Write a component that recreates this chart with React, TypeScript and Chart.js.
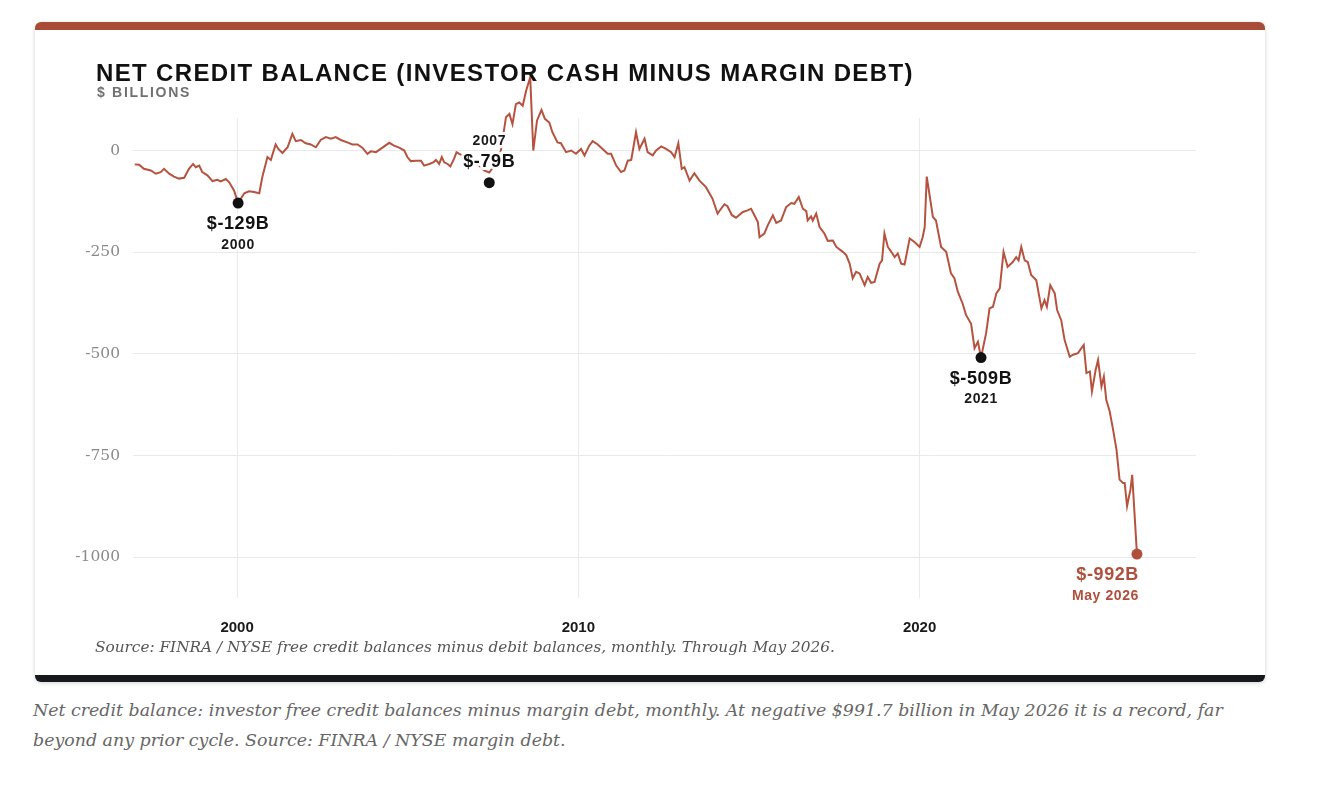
import React, { useEffect, useRef } from "react";
import { Chart, registerables } from "chart.js";

Chart.register(...registerables);

// ---- Data ----
const years = [
  1997.0, 1997.13, 1997.27, 1997.47, 1997.62, 1997.76, 1997.86, 1998.01, 1998.15, 1998.3,
  1998.45, 1998.59, 1998.71, 1998.79, 1998.89, 1998.98, 1999.13, 1999.28, 1999.42, 1999.52,
  1999.67, 1999.77, 1999.91, 2000.03, 2000.21, 2000.35, 2000.5, 2000.65, 2000.74, 2000.89,
  2000.99, 2001.13, 2001.21, 2001.33, 2001.48, 2001.62, 2001.72, 2001.87, 2002.01, 2002.16,
  2002.31, 2002.45, 2002.6, 2002.75, 2002.89, 2003.04, 2003.23, 2003.38, 2003.53, 2003.67,
  2003.82, 2003.92, 2004.07, 2004.26, 2004.46, 2004.6, 2004.75, 2004.9, 2004.99, 2005.09,
  2005.24, 2005.39, 2005.48, 2005.63, 2005.75, 2005.83, 2005.92, 2006.0, 2006.07, 2006.17,
  2006.25, 2006.36, 2006.43, 2006.51, 2006.95, 2007.24, 2007.39, 2007.54, 2007.73, 2007.88,
  2007.98, 2008.07, 2008.17, 2008.27, 2008.37, 2008.47, 2008.59, 2008.68, 2008.79, 2008.92,
  2009.02, 2009.15, 2009.24, 2009.39, 2009.49, 2009.64, 2009.79, 2009.93, 2010.08, 2010.18,
  2010.32, 2010.42, 2010.57, 2010.71, 2010.86, 2010.96, 2011.11, 2011.25, 2011.35, 2011.45,
  2011.55, 2011.69, 2011.79, 2011.94, 2012.03, 2012.18, 2012.28, 2012.43, 2012.57, 2012.72,
  2012.82, 2012.93, 2013.03, 2013.11, 2013.26, 2013.4, 2013.55, 2013.74, 2013.93, 2014.08,
  2014.28, 2014.37, 2014.5, 2014.62, 2014.82, 2014.96, 2015.06, 2015.16, 2015.26, 2015.31,
  2015.45, 2015.55, 2015.7, 2015.8, 2015.94, 2016.09, 2016.24, 2016.33, 2016.46, 2016.58,
  2016.68, 2016.72, 2016.82, 2016.87, 2016.97, 2017.07, 2017.21, 2017.31, 2017.46, 2017.56,
  2017.75, 2017.85, 2017.95, 2018.04, 2018.14, 2018.24, 2018.39, 2018.48, 2018.58, 2018.68,
  2018.83, 2018.9, 2018.97, 2019.07, 2019.17, 2019.27, 2019.36, 2019.46, 2019.56, 2019.71,
  2019.85, 2020.0, 2020.09, 2020.15, 2020.21, 2020.39, 2020.48, 2020.63, 2020.78, 2020.92,
  2021.02, 2021.12, 2021.26, 2021.36, 2021.51, 2021.61, 2021.71, 2021.8, 2021.95, 2022.05,
  2022.15, 2022.25, 2022.35, 2022.46, 2022.58, 2022.73, 2022.83, 2022.9, 2022.98, 2023.08,
  2023.17, 2023.27, 2023.42, 2023.57, 2023.66, 2023.73, 2023.83, 2023.96, 2024.03, 2024.15,
  2024.25, 2024.4, 2024.5, 2024.64, 2024.81, 2024.89, 2024.99, 2025.05, 2025.16, 2025.23,
  2025.33, 2025.4, 2025.47, 2025.57, 2025.67, 2025.77, 2025.86, 2025.96, 2026.01, 2026.08,
  2026.18, 2026.23, 2026.37,
];

const netCredit = [
  -34, -35, -45, -49, -57, -53, -45, -57, -64, -69,
  -67, -45, -33, -41, -37, -53, -61, -75, -72, -76,
  -70, -78, -98, -129, -105, -100, -102, -105, -65, -16,
  -23, 15, 4, -6, 8, 41, 23, 26, 18, 15,
  8, 26, 33, 29, 33, 26, 20, 15, 15, 7,
  -8, -2, -4, 7, 19, 12, 7, 0, -16, -26,
  -25, -25, -37, -33, -29, -23, -33, -16, -29, -33,
  -39, -20, -4, -8, -25, -49, -54, -37, 0, 82,
  90, 65, 114, 118, 110, 147, 180, 0, 74, 100,
  78, 69, 45, 20, 18, -4, 0, -8, 4, -12,
  12, 23, 15, 4, -8, -8, -37, -53, -49, -25,
  -23, 45, 4, 29, -4, -12, 0, 10, 4, -4,
  -16, 18, -45, -41, -74, -56, -74, -90, -118, -155,
  -132, -137, -159, -165, -151, -147, -143, -159, -176, -213,
  -204, -184, -159, -178, -172, -139, -129, -131, -114, -143,
  -149, -172, -162, -172, -155, -188, -204, -222, -221, -237,
  -249, -257, -278, -314, -298, -302, -331, -311, -325, -323,
  -278, -270, -204, -237, -249, -262, -253, -278, -280, -216,
  -225, -237, -213, -188, -64, -163, -172, -237, -249, -302,
  -314, -347, -376, -404, -426, -486, -470, -509, -449, -388,
  -384, -351, -339, -249, -286, -274, -262, -270, -237, -270,
  -274, -306, -319, -388, -368, -384, -331, -351, -392, -417,
  -466, -507, -502, -498, -478, -547, -543, -592, -539, -515,
  -580, -556, -613, -641, -686, -735, -809, -817, -817, -874,
  -833, -797, -992,
];

const xTickYears = [2000, 2010, 2020];
const yTickValues = [0, -250, -500, -750, -1000];

const annoYears = [2000.03, 2007.39, 2021.8, 2026.37];
const annoValues = [-129, -79, -509, -992];
const annoValueLabels = ["$-129B", "$-79B", "$-509B", "$-992B"];
const annoDateLabels = ["2000", "2007", "2021", "May 2026"];

// ---- Styles ----
const LINE_COLOR = "#b5533f";
const ACCENT = "#b0503c";
const ANNO_STYLE = [
  { place: "below", align: "center", color: "#111111" },
  { place: "above", align: "center", color: "#111111" },
  { place: "below", align: "center", color: "#111111" },
  { place: "below", align: "right", color: ACCENT },
];

const annoPlugin = {
  id: "annoPlugin",
  afterDatasetsDraw(chart: any) {
    const { ctx } = chart;
    const xs = chart.scales.x;
    const ys = chart.scales.y;
    annoYears.forEach((yr, i) => {
      const px = xs.getPixelForValue(yr);
      const py = ys.getPixelForValue(annoValues[i]);
      const st = ANNO_STYLE[i];
      ctx.save();
      ctx.textAlign = st.align;
      ctx.textBaseline = "middle";
      ctx.lineJoin = "round";
      const tx = st.align === "right" ? px + 2 : px;
      const vy = st.place === "below" ? py + 21 : py - 21;
      const dy = st.place === "below" ? py + 42 : py - 42;
      const drawText = (txt: string, y: number, font: string, color: string) => {
        ctx.font = font;
        (ctx as any).letterSpacing = "0.6px";
        ctx.strokeStyle = "rgba(255,255,255,0.92)";
        ctx.lineWidth = 6;
        ctx.strokeText(txt, tx, y);
        ctx.fillStyle = color;
        ctx.fillText(txt, tx, y);
      };
      drawText(annoValueLabels[i], vy, 'bold 18px "Liberation Sans", Arial, sans-serif', st.color);
      drawText(annoDateLabels[i], dy, 'bold 14px "Liberation Sans", Arial, sans-serif', st.color === "#111111" ? "#1a1a1a" : st.color);
      ctx.beginPath();
      ctx.arc(px, py, 5.5, 0, Math.PI * 2);
      ctx.fillStyle = st.color;
      ctx.fill();
      ctx.restore();
    });
  },
};

export default function App() {
  const ref = useRef<HTMLCanvasElement>(null);

  useEffect(() => {
    if (!ref.current) return;
    const points = years.map((x, i) => ({ x, y: netCredit[i] }));
    const chart = new Chart(ref.current, {
      type: "line",
      data: {
        datasets: [
          {
            data: points,
            borderColor: LINE_COLOR,
            borderWidth: 2,
            pointRadius: 0,
            tension: 0,
            fill: false,
            clip: false as any,
          },
        ],
      },
      options: {
        responsive: false,
        animation: false,
        devicePixelRatio: 1,
        layout: { padding: { top: 88, right: 69, left: 0, bottom: 0 } },
        plugins: { legend: { display: false }, tooltip: { enabled: false } },
        scales: {
          x: {
            type: "linear",
            min: 1996.95,
            max: 2028.1,
            afterBuildTicks: (s: any) => {
              s.ticks = xTickYears.map((v) => ({ value: v }));
            },
            afterFit: (s: any) => {
              s.height = 77;
            },
            grid: { color: "#e9e9e9", lineWidth: 1, drawTicks: false },
            border: { display: false },
            ticks: {
              padding: 21,
              color: "#1a1a1a",
              font: { family: '"Liberation Sans", Arial, sans-serif', size: 15, weight: "bold" },
              callback: (v: any) => String(v),
            },
          },
          y: {
            min: -1100,
            max: 80,
            afterBuildTicks: (s: any) => {
              s.ticks = yTickValues.map((v) => ({ value: v }));
            },
            afterFit: (s: any) => {
              s.width = 98;
            },
            grid: { color: "#e9e9e9", lineWidth: 1, drawTicks: false },
            border: { display: false },
            ticks: {
              padding: 13,
              color: "#8a8a8a",
              font: { family: '"DejaVu Serif", Georgia, serif', size: 15.5 },
              callback: (v: any) => String(v),
            },
          },
        },
      },
      plugins: [annoPlugin],
    });
    return () => chart.destroy();
  }, []);

  return (
    <div style={{ position: "relative", width: 1308, height: 772 }}>
      <div
        style={{
          position: "absolute",
          left: 27,
          top: 14,
          width: 1230,
          height: 645,
          background: "#fff",
          borderTop: "8px solid #a84c37",
          borderBottom: "7px solid #16181b",
          borderRadius: 6,
          boxShadow: "0 1px 4px rgba(0,0,0,0.18)",
        }}
      >
        <canvas
          ref={ref}
          width={1230}
          height={645}
          style={{ position: "absolute", left: 0, top: 0, width: 1230, height: 645 }}
        />
        <div
          style={{
            position: "absolute",
            left: 61,
            top: 31,
            fontFamily: '"Liberation Sans", Arial, sans-serif',
            fontWeight: "bold",
            fontSize: 24,
            lineHeight: "24px",
            letterSpacing: "1.35px",
            color: "#111",
            whiteSpace: "nowrap",
          }}
        >
          NET CREDIT BALANCE (INVESTOR CASH MINUS MARGIN DEBT)
        </div>
        <div
          style={{
            position: "absolute",
            left: 62,
            top: 55,
            fontFamily: '"Liberation Sans", Arial, sans-serif',
            fontWeight: "bold",
            fontSize: 14,
            lineHeight: "14px",
            letterSpacing: "1.7px",
            color: "#707070",
            whiteSpace: "nowrap",
          }}
        >
          $ BILLIONS
        </div>
        <div
          style={{
            position: "absolute",
            left: 60,
            top: 607,
            fontFamily: '"DejaVu Serif", Georgia, serif',
            fontStyle: "italic",
            fontSize: 15.3,
            lineHeight: "20px",
            color: "#555",
            whiteSpace: "nowrap",
          }}
        >
          Source: FINRA / NYSE free credit balances minus debit balances, monthly. Through May 2026.
        </div>
      </div>
      <div
        style={{
          position: "absolute",
          left: 25,
          top: 687,
          width: 1200,
          fontFamily: '"DejaVu Serif", Georgia, serif',
          fontStyle: "italic",
          fontSize: 17.4,
          lineHeight: "30px",
          color: "#666",
        }}
      >
        Net credit balance: investor free credit balances minus margin debt, monthly. At negative $991.7 billion in May 2026 it is a record, far beyond any prior cycle. Source: FINRA / NYSE margin debt.
      </div>
    </div>
  );
}
